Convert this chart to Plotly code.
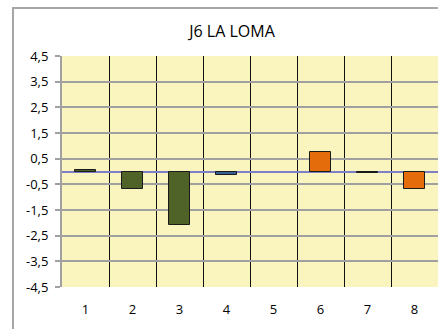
import plotly.graph_objects as go

# Station J6 LA LOMA: deviation per period
periods = [1, 2, 3, 4, 5, 6, 7, 8]
values = [0.07, -0.68, -2.08, -0.15, 0.0, 0.77, -0.07, -0.68]
colors = ["#4f6228", "#4f6228", "#4f6228", "#376092", "#376092",
          "#e46c0a", "#376092", "#e46c0a"]
y_ticks = [-4.5, -3.5, -2.5, -1.5, -0.5, 0.5, 1.5, 2.5, 3.5, 4.5]
y_labels = [f"{v:.1f}".replace(".", ",") for v in y_ticks]
title = "J6 LA LOMA"

# empty bars get no outline
outline_w = [0 if v == 0 else 1 for v in values]

fig = go.Figure()
fig.add_trace(go.Bar(
    x=periods, y=values, width=0.44,
    marker=dict(color=colors, line=dict(color="#1a1a1a", width=outline_w)),
    showlegend=False,
))

W, H = 438, 329
ml, mr, mt, mb = 62, 0, 56, 42
pw, ph = W - ml - mr, H - mt - mb
tick_font = dict(family="Open Sans", size=13, color="#000000")

fig.update_layout(
    width=W, height=H,
    margin=dict(l=ml, r=mr, t=mt, b=mb),
    paper_bgcolor="white",
    plot_bgcolor="#faf5be",
    font=tick_font,
    title=dict(text=title, x=232 / W, xanchor="center",
               y=1 - 31 / H, yanchor="middle",
               font=dict(family="Open Sans", size=16, color="#000000")),
    bargap=0,
    xaxis=dict(
        range=[0.5, 8.5], tickmode="array", tickvals=periods,
        ticktext=[str(p) for p in periods], tickfont=tick_font,
        showgrid=False, zeroline=False, showline=False, ticks="",
        ticklabelstandoff=13,
        minor=dict(tickmode="array",
                   tickvals=[p + 0.5 for p in periods[:-1]],
                   showgrid=True, gridcolor="#111111", gridwidth=1.2),
    ),
    yaxis=dict(
        range=[-4.5, 4.5], tickmode="array", tickvals=y_ticks,
        ticktext=y_labels, tickfont=tick_font,
        showgrid=True, gridcolor="#a0a0a0", gridwidth=1.5,
        zeroline=True, zerolinecolor="#7f7fc8", zerolinewidth=1.5,
        showline=True, linecolor="#a0a0a0", linewidth=2,
        ticks="outside", ticklen=5, tickcolor="#a0a0a0", tickwidth=1.5,
        ticklabelstandoff=4,
    ),
    shapes=[dict(
        type="rect", xref="paper", yref="paper",
        x0=(13 - ml) / pw, x1=1.2,
        y0=-0.5, y1=(H - mb - 8) / ph,
        line=dict(color="#a6a6a6", width=2), layer="below",
    )],
)

fig.write_html("out.html")
